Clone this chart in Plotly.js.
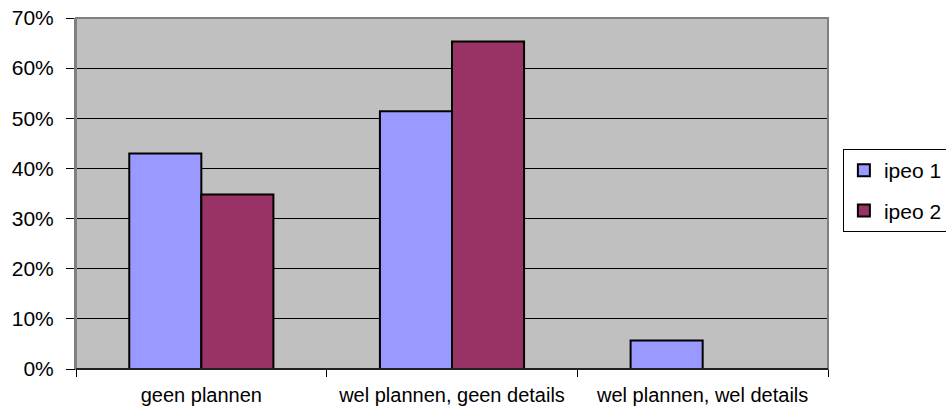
<!DOCTYPE html>
<html>
<head>
<meta charset="utf-8">
<script src="https://cdn.plot.ly/plotly-3.0.1.min.js"></script>
<style>html,body{margin:0;padding:0;background:#fff;}#chart{width:946px;height:414px;}</style>
</head>
<body>
<div id="chart"></div>
<script>
var categories = ["geen plannen", "wel plannen, geen details", "wel plannen, wel details"];
var seriesNames = ["ipeo 1", "ipeo 2"];
var ipeo1 = [0.430, 0.514, 0.057];
var ipeo2 = [0.348, 0.653, 0];
var colors = ["#9999FF", "#993366"];

var traces = [ipeo1, ipeo2].map(function (vals, i) {
  return {
    type: "bar",
    name: seriesNames[i],
    legendgroup: "g" + i,
    x: categories,
    y: vals,
    marker: {color: colors[i], line: {color: "#000000", width: 2}},
    hoverinfo: "x+y"
  };
});

var layout = {
  width: 946,
  height: 414,
  margin: {l: 76, r: 118, t: 18, b: 45, autoexpand: false},
  paper_bgcolor: "#ffffff",
  plot_bgcolor: "#C0C0C0",
  font: {family: "Liberation Sans, Arial, sans-serif", size: 21, color: "#000000"},
  barmode: "group",
  bargap: 0.425,
  bargroupgap: 0,
  showlegend: true,
  legend: {
    xref: "container", yref: "container",
    x: 0.891, xanchor: "left",
    y: 0.64, yanchor: "top",
    bgcolor: "#ffffff",
    bordercolor: "#000000",
    borderwidth: 1,
    traceorder: "grouped",
    tracegroupgap: 10,
    font: {size: 21}
  },
  xaxis: {
    type: "category",
    showgrid: false,
    showline: true,
    linecolor: "#000000",
    linewidth: 1,
    ticks: "outside",
    tickson: "boundaries",
    ticklen: 7,
    tickcolor: "#000000",
    ticklabelstandoff: 8,
    tickfont: {size: 20}
  },
  yaxis: {
    range: [0, 0.7],
    dtick: 0.1,
    tickformat: ".0%",
    showgrid: true,
    gridcolor: "#000000",
    gridwidth: 1,
    zeroline: false,
    showline: true,
    linecolor: "#808080",
    linewidth: 2,
    ticks: "outside",
    ticklen: 8,
    tickcolor: "#000000",
    ticklabelstandoff: 8,
    tickfont: {size: 21}
  },
  shapes: [{
    type: "rect", xref: "paper", yref: "paper", x0: 0, x1: 1, y0: 0, y1: 1,
    line: {color: "#808080", width: 2}, layer: "above"
  }, {
    type: "line", xref: "paper", yref: "paper", x0: 0, x1: 1, y0: 0, y1: 0,
    line: {color: "#000000", width: 1.5}, layer: "above"
  }]
};

Plotly.newPlot("chart", traces, layout, {displayModeBar: false, staticPlot: true});
</script>
</body>
</html>
